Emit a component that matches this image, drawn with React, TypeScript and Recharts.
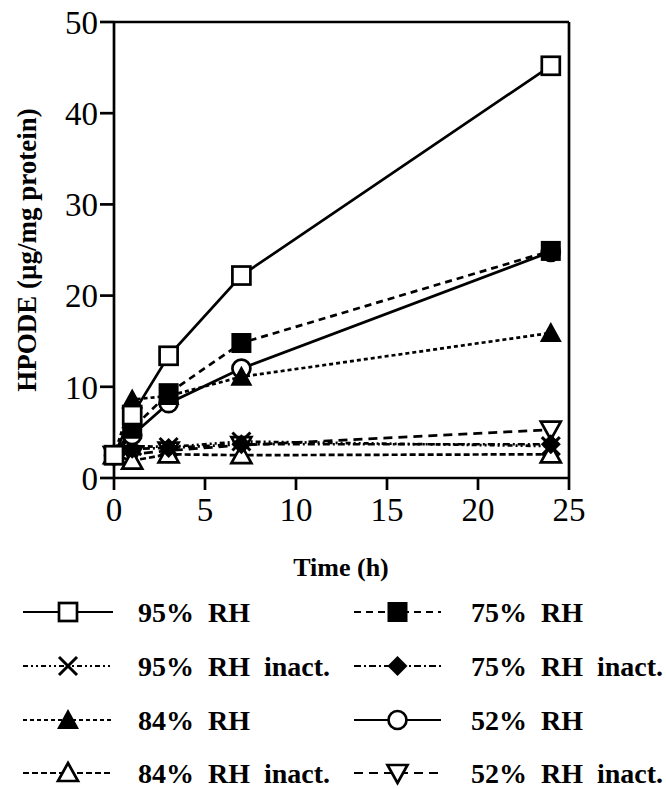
import { LineChart, Line, XAxis, YAxis, ReferenceLine, Label } from "recharts";

const times = [0, 1, 3, 7, 24];
const rh95 = [2.5, 6.9, 13.4, 22.2, 45.2];
const rh95Inact = [2.5, 3.5, 3.4, 4.0, 3.5];
const rh84 = [2.5, 8.6, 9.0, 11.1, 15.9];
const rh84Inact = [2.5, 1.9, 2.6, 2.5, 2.6];
const rh75 = [2.5, 5.4, 9.3, 14.8, 24.9];
const rh75Inact = [2.5, 3.2, 3.3, 3.7, 3.7];
const rh52 = [2.5, 4.7, 8.2, 12.0, 24.8];
const rh52Inact = [2.5, 2.6, 3.0, 3.6, 5.3];

const xTicks = [0, 5, 10, 15, 20, 25];
const yTicks = [0, 10, 20, 30, 40, 50];

const data = times.map((t, i) => ({
  t,
  rh95: rh95[i],
  rh95Inact: rh95Inact[i],
  rh84: rh84[i],
  rh84Inact: rh84Inact[i],
  rh75: rh75[i],
  rh75Inact: rh75Inact[i],
  rh52: rh52[i],
  rh52Inact: rh52Inact[i],
}));

const FONT = "'Liberation Serif', 'Times New Roman', serif";
const SW = 2.7;

type Kind = "square" | "filledSquare" | "cross" | "triangle" | "openTriangle" | "diamond" | "circle" | "downTriangle";

function marker(kind: Kind, cx: number, cy: number, key?: string | number) {
  const s = 10;
  switch (kind) {
    case "square":
      return <rect key={key} x={cx - s + 1} y={cy - s + 1} width={2 * s - 2} height={2 * s - 2} fill="#fff" stroke="#000" strokeWidth={SW} />;
    case "filledSquare":
      return <rect key={key} x={cx - s} y={cy - s} width={2 * s} height={2 * s} fill="#000" />;
    case "cross":
      return (
        <g key={key} stroke="#000" strokeWidth={3}>
          <line x1={cx - 9} y1={cy - 9} x2={cx + 9} y2={cy + 9} />
          <line x1={cx - 9} y1={cy + 9} x2={cx + 9} y2={cy - 9} />
        </g>
      );
    case "triangle":
      return <polygon key={key} points={`${cx},${cy - 11} ${cx + 11},${cy + 9} ${cx - 11},${cy + 9}`} fill="#000" />;
    case "openTriangle":
      return <polygon key={key} points={`${cx},${cy - 10} ${cx + 10},${cy + 8} ${cx - 10},${cy + 8}`} fill="#fff" stroke="#000" strokeWidth={SW} />;
    case "downTriangle":
      return <polygon key={key} points={`${cx},${cy + 10} ${cx + 10},${cy - 8} ${cx - 10},${cy - 8}`} fill="#fff" stroke="#000" strokeWidth={SW} />;
    case "diamond":
      return <polygon key={key} points={`${cx},${cy - 10} ${cx + 10},${cy} ${cx},${cy + 10} ${cx - 10},${cy}`} fill="#000" />;
    case "circle":
      return <circle key={key} cx={cx} cy={cy} r={9} fill="#fff" stroke="#000" strokeWidth={SW} />;
  }
}

const dotFor = (kind: Kind) => (props: any) => marker(kind, props.cx, props.cy, props.index);

// drawn bottom to top
const series: { key: string; name: string; kind: Kind; dash?: string }[] = [
  { key: "rh52Inact", name: "52% RH inact.", kind: "downTriangle", dash: "9 6" },
  { key: "rh84Inact", name: "84% RH inact.", kind: "openTriangle", dash: "6 3" },
  { key: "rh75Inact", name: "75% RH inact.", kind: "diamond", dash: "7 3 2 3" },
  { key: "rh95Inact", name: "95% RH inact.", kind: "cross", dash: "5 3 2 3 2 3" },
  { key: "rh52", name: "52% RH", kind: "circle" },
  { key: "rh75", name: "75% RH", kind: "filledSquare", dash: "7 5" },
  { key: "rh84", name: "84% RH", kind: "triangle", dash: "4 3" },
  { key: "rh95", name: "95% RH", kind: "square" },
];

const legendLeft = ["rh95", "rh95Inact", "rh84", "rh84Inact"];
const legendRight = ["rh75", "rh75Inact", "rh52", "rh52Inact"];
const legendRows = [612, 666, 720, 773];

function LegendBlock() {
  const col = (keys: string[], x1: number, x2: number, tx: number) =>
    keys.map((k, i) => {
      const s = series.find((d) => d.key === k)!;
      const y = legendRows[i];
      const mid = (x1 + x2) / 2;
      return (
        <g key={k}>
          <line x1={x1} y1={y} x2={x2} y2={y} stroke="#000" strokeWidth={2} strokeDasharray={s.dash} />
          {marker(s.kind, mid, y)}
          <text x={tx} y={y + 10} fontFamily={FONT} fontWeight="bold" fontSize={28} style={{ whiteSpace: "pre" }}>
            {s.name.replace(" RH", "  RH").replace("RH inact", "RH  inact")}
          </text>
        </g>
      );
    });
  return (
    <svg width={666} height={789} style={{ position: "absolute", left: 0, top: 0 }}>
      {col(legendLeft, 23, 113, 138)}
      {col(legendRight, 354, 441, 471)}
    </svg>
  );
}

export default function App() {
  return (
    <div style={{ position: "absolute", left: 0, top: 0, width: 666, height: 789, background: "#fff", overflow: "hidden" }}>
      <LineChart width={666} height={600} data={data} margin={{ top: 22, right: 97, left: 0, bottom: 42 }}>
        <XAxis
          dataKey="t"
          type="number"
          domain={[0, 25]}
          ticks={xTicks}
          stroke="#000"
          strokeWidth={SW}
          tickSize={12}
          tickMargin={8}
          tick={{ fill: "#000", fontFamily: FONT, fontSize: 33 }}
          height={80}
        >
          <Label
            content={() => (
              <text x={341} y={567} textAnchor="middle" dominantBaseline="central" fontFamily={FONT} fontWeight="bold" fontSize={26}>
                Time (h)
              </text>
            )}
          />
        </XAxis>
        <YAxis
          type="number"
          domain={[0, 50]}
          ticks={yTicks}
          stroke="#000"
          strokeWidth={SW}
          tickSize={14}
          tickMargin={2}
          tick={{ fill: "#000", fontFamily: FONT, fontSize: 33 }}
          width={114}
        >
          <Label
            content={() => (
              <text
                x={27}
                y={250}
                transform="rotate(-90 27 250)"
                textAnchor="middle"
                dominantBaseline="central"
                fontFamily={FONT}
                fontWeight="bold"
                fontSize={27}
              >
                HPODE (µg/mg protein)
              </text>
            )}
          />
        </YAxis>
        <ReferenceLine y={50} stroke="#000" strokeWidth={SW} />
        <ReferenceLine x={25} stroke="#000" strokeWidth={SW} />
        {series.map((s) => (
          <Line
            key={s.key}
            dataKey={s.key}
            name={s.name}
            type="linear"
            stroke="#000"
            strokeWidth={SW}
            strokeDasharray={s.dash}
            dot={dotFor(s.kind)}
            activeDot={false}
            isAnimationActive={false}
          />
        ))}
      </LineChart>
      <LegendBlock />
    </div>
  );
}
